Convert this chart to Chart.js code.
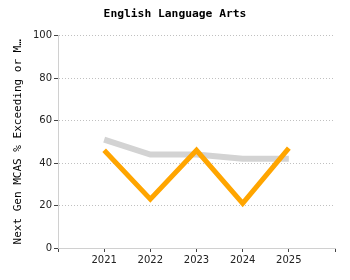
<!DOCTYPE html>
<html lang="en">
<head>
    <meta charset="UTF-8">
    <title>English Language Arts</title>
    <script src="https://cdn.jsdelivr.net/npm/chart.js"></script>
    <style>
        * {
            margin: 0;
            padding: 0;
            box-sizing: border-box;
        }

        body {
            background: #ffffff;
        }

        #chartBox {
            width: 350px;
            height: 280px;
        }
    </style>
</head>
<body>
    <div id="chartBox">
        <canvas id="elaChart" width="350" height="280"></canvas>
    </div>

    <script>
        // Data
        const years = [2021, 2022, 2023, 2024, 2025];
        const schoolScores = [46, 23, 46, 21, 47];
        const stateScores = [51, 44, 44, 42, 42];
        const yTicks = [0, 20, 40, 60, 80, 100];

        const mono = 'DejaVu Sans Mono';
        const sans = 'DejaVu Sans';

        function points(values) {
            return years.map((yr, i) => ({ x: yr, y: values[i] }));
        }

        new Chart(document.getElementById('elaChart').getContext('2d'), {
            type: 'line',
            data: {
                datasets: [{
                    label: 'School',
                    data: points(schoolScores),
                    borderColor: '#ffa500',
                    borderWidth: 5,
                    borderJoinStyle: 'miter',
                    pointRadius: 0,
                    tension: 0,
                    order: 1
                }, {
                    label: 'State',
                    data: points(stateScores),
                    borderColor: '#d3d3d3',
                    borderWidth: 6,
                    pointRadius: 0,
                    tension: 0,
                    order: 2
                }]
            },
            options: {
                responsive: false,
                animation: false,
                plugins: {
                    legend: { display: false },
                    tooltip: { enabled: false },
                    title: {
                        display: true,
                        text: 'English Language Arts',
                        color: '#000',
                        font: { family: mono, size: 11.3, weight: 'bold' },
                        padding: { top: 7, bottom: 15 }
                    }
                },
                scales: {
                    x: {
                        type: 'linear',
                        min: years[0] - 1,
                        max: years[years.length - 1] + 1,
                        afterFit: s => { s.height = 32; },
                        ticks: {
                            stepSize: 1,
                            autoSkip: false,
                            maxRotation: 0,
                            padding: 2,
                            color: '#222',
                            font: { family: sans, size: 10 },
                            callback: v => years.includes(v) ? String(v) : ''
                        },
                        grid: {
                            drawOnChartArea: false,
                            tickLength: 4,
                            tickColor: '#444'
                        },
                        border: { color: '#d0d0d0', width: 1 }
                    },
                    y: {
                        min: yTicks[0],
                        max: yTicks[yTicks.length - 1],
                        afterFit: s => { s.width = 58; },
                        afterBuildTicks: s => { s.ticks = yTicks.map(v => ({ value: v })); },
                        ticks: {
                            padding: 2,
                            color: '#222',
                            font: { family: sans, size: 10 }
                        },
                        grid: {
                            color: '#c0c0c0',
                            tickLength: 4,
                            tickColor: '#444',
                            tickBorderDash: []
                        },
                        border: { color: '#d0d0d0', width: 1, dash: [1, 2] },
                        title: {
                            display: true,
                            text: 'Next Gen MCAS % Exceeding or M…',
                            color: '#000',
                            font: { family: mono, size: 11 },
                            padding: { top: 12, bottom: 0 }
                        }
                    },
                    // empty spacer on the right so the title stays centred on the canvas
                    spacer: {
                        position: 'right',
                        min: 0,
                        max: 1,
                        afterFit: s => { s.width = 15; },
                        ticks: { display: false },
                        grid: { display: false },
                        border: { display: false }
                    }
                }
            }
        });
    </script>
</body>
</html>
